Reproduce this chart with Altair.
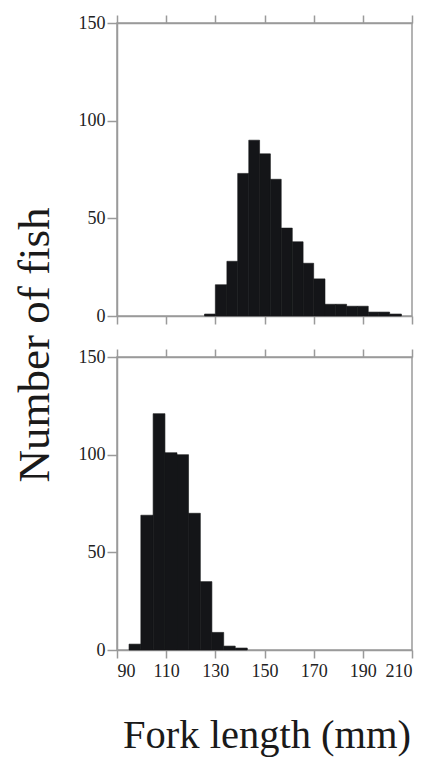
import altair as alt
import pandas as pd

# Top panel: bin edges (mm) and counts
top_edges = [125.6, 130.0, 134.7, 139.1, 143.6, 148.0, 152.4, 156.8, 161.3, 165.7,
             170.0, 174.6, 179.0, 183.4, 187.8, 192.2, 196.5, 200.9, 205.7]
top_counts = [1, 16, 28, 73, 90, 83, 70, 45, 38, 27, 19, 6, 6, 5, 5, 2, 2, 1]

# Bottom panel: bin edges (mm) and counts
bot_edges = [94.9, 99.7, 104.7, 109.5, 114.4, 119.1, 123.9, 128.6, 133.4, 138.1, 143.0]
bot_counts = [3, 69, 121, 101, 100, 70, 35, 9, 2, 1]

x_ticks = [90, 110, 130, 150, 170, 190, 210]
y_ticks = [0, 50, 100, 150]

FONT = "Liberation Serif"
GREY = "#9a9a9a"
BAR = "#141518"


def frame(edges, counts):
    return pd.DataFrame({
        "start": edges[:-1],
        "end": edges[1:],
        "count": counts,
    })


def make_yaxis(y_title):
    kw = dict(
        values=y_ticks, tickSize=10, labelFontSize=18, labelFont=FONT,
        labelColor="#222222", domainColor=GREY, tickColor=GREY,
        domainWidth=1.5, tickWidth=1.5, labelPadding=2, grid=False,
    )
    if y_title:
        kw.update(
            title=y_title, titleFont=FONT, titleFontSize=45,
            titleFontWeight="normal", titleColor="#1a1a1a", titleX=-69,
            titleY=321.5, titleBaseline="alphabetic", titleAngle=270,
        )
    else:
        kw.update(title=None)
    return alt.Axis(**kw)


def panel(df, bottom_labels, y_title):
    xscale = alt.Scale(domain=[90, 210], nice=False, zero=False)
    yscale = alt.Scale(domain=[0, 150], nice=False)
    yaxis = make_yaxis(y_title)
    if bottom_labels:
        xaxis = alt.Axis(
            values=x_ticks, tickSize=8, labelFontSize=18, labelFont=FONT,
            labelColor="#222222", domainColor=GREY, tickColor=GREY,
            domainWidth=1.5, tickWidth=1.5, labelPadding=4, grid=False,
            title="Fork length (mm)", titleFont=FONT, titleFontSize=40.5,
            titleFontWeight="normal", titleColor="#1a1a1a",
            titleBaseline="alphabetic", titleY=97, titleX=149.5,
        )
    else:
        xaxis = alt.Axis(
            values=x_ticks, tickSize=8, labels=False, domainColor=GREY,
            tickColor=GREY, domainWidth=1.5, tickWidth=1.5, grid=False, title=None,
        )
    bars = alt.Chart(df).mark_rect(color=BAR, stroke=BAR, strokeWidth=0.6).encode(
        x=alt.X("start:Q", scale=xscale, axis=xaxis),
        x2="end:Q",
        y=alt.Y("count:Q", scale=yscale, axis=yaxis),
        y2=alt.datum(0),
    )
    top_axis = alt.Chart(df).mark_rect(opacity=0).encode(
        x=alt.X("start:Q", scale=xscale, axis=alt.Axis(
            orient="top", values=x_ticks, tickSize=8, labels=False,
            domainColor=GREY, tickColor=GREY, domainWidth=1.5, tickWidth=1.5,
            grid=False, title=None)),
        x2="end:Q",
        y=alt.Y("count:Q", scale=yscale, axis=yaxis),
        y2=alt.datum(0),
    )
    return alt.layer(bars, top_axis).resolve_axis(x="independent").properties(
        width=295, height=293
    )


top = panel(frame(top_edges, top_counts), False, "Number of fish")
bottom = panel(frame(bot_edges, bot_counts), True, None)

chart = alt.vconcat(top, bottom, spacing=41, bounds="flush").properties(
    padding={"left": 3, "top": 5, "right": 5, "bottom": 0}
).configure_view(stroke=GREY, strokeWidth=1.5)

chart.save("out.html", embed_options={"renderer": "svg", "actions": False})
